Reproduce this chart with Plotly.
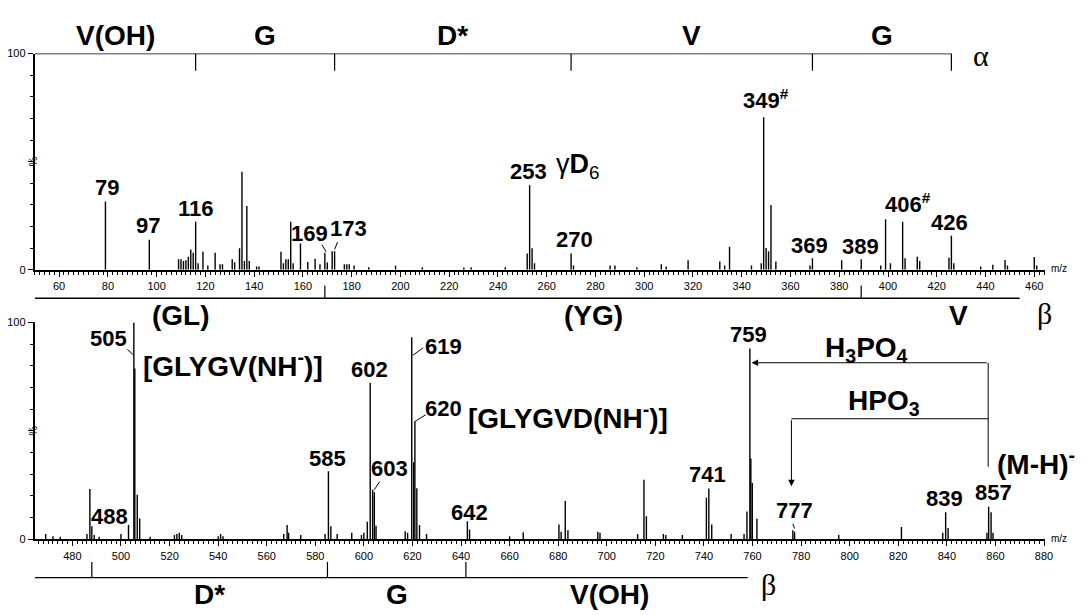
import plotly.graph_objects as go

# ---------------- data ----------------
top_mz = [79, 97, 109, 110, 111, 112, 113, 114, 115, 116, 117, 119, 121, 124, 126, 127,
          131, 132, 134, 135, 136, 137, 138, 141, 142, 151, 152, 153, 154, 155, 156, 159,
          162, 165, 167, 169, 170, 172, 173, 177, 178, 179, 181, 187, 198, 209, 226, 229,
          243, 252, 253, 254, 255, 270, 271, 286, 288, 297, 307, 309, 318, 331, 333, 335,
          344, 348, 349, 350, 351, 352, 354, 368, 369, 381, 389, 397, 399, 401, 406, 407,
          412, 413, 425, 426, 427, 438, 443, 448, 449, 460, 461]
top_int = [31.6, 13.9, 4.8, 4.8, 4.0, 4.4, 6.0, 9.4, 7.9, 22.2, 3.0, 8.3, 2.0, 7.9, 2.5, 2.5,
           4.8, 3.5, 10.0, 45.3, 4.0, 29.5, 4.0, 1.5, 1.5, 8.3, 3.0, 4.8, 4.8, 22.2, 3.0, 12.1,
           3.6, 5.1, 2.5, 7.9, 3.3, 8.6, 8.6, 2.5, 2.5, 2.5, 2.0, 1.2, 1.8, 1.2, 1.0, 1.2,
           1.2, 7.5, 39.1, 10.0, 3.0, 7.5, 2.0, 2.0, 2.0, 1.2, 2.5, 1.5, 4.4, 3.8, 2.0, 10.6,
           2.0, 3.0, 70.5, 10.1, 8.6, 30.0, 3.8, 2.0, 5.3, 4.4, 4.8, 2.0, 23.4, 3.0, 22.2, 5.3,
           6.0, 4.0, 5.6, 15.7, 3.0, 1.5, 2.3, 4.5, 2.0, 5.9, 2.0]

bot_mz = [469.0, 472.0, 475.0, 486.0, 487.2, 488.0, 489.0, 491.0, 500.0, 503.1, 505.3, 505.7,
          506.7, 507.7, 512.0, 522.0, 523.0, 524.0, 525.0, 540.0, 541.0, 542.0, 567.0, 568.4,
          569.0, 574.0, 584.0, 585.4, 586.4, 589.0, 595.0, 599.0, 600.0, 601.4, 602.6, 603.6,
          604.3, 605.0, 617.0, 618.0, 619.7, 620.5, 621.0, 621.8, 622.9, 625.8, 642.6, 643.5,
          660.0, 665.6, 680.3, 681.2, 682.9, 684.0, 696.3, 697.2, 712.7, 715.3, 716.3, 723.3,
          724.3, 731.1, 741.0, 742.0, 743.2, 751.2, 756.5, 757.7, 758.9, 759.3, 759.9, 761.8,
          776.6, 777.3, 795.5, 821.3, 838.3, 839.5, 840.5, 856.5, 857.2, 858.2, 859.0]
bot_int = [2.5, 1.5, 1.2, 2.5, 23.2, 6.0, 2.0, 1.2, 2.5, 6.6, 100.0, 78.8,
           20.6, 9.6, 1.2, 2.0, 2.5, 3.0, 2.0, 1.5, 2.5, 1.5, 2.5, 6.6,
           3.0, 2.0, 2.5, 31.4, 6.0, 2.5, 3.0, 2.0, 3.0, 8.1, 72.2, 22.9,
           21.7, 6.3, 3.8, 3.0, 93.2, 35.6, 54.4, 23.6, 6.6, 2.5, 8.3, 4.5,
           1.5, 3.3, 6.9, 3.5, 17.7, 4.2, 3.5, 3.0, 2.5, 27.5, 10.7, 2.5,
           2.0, 2.0, 19.2, 23.5, 6.9, 2.5, 2.5, 12.9, 88.0, 37.3, 26.0, 9.5,
           4.2, 3.5, 2.0, 5.7, 3.0, 12.5, 5.3, 3.0, 15.0, 12.5, 3.0]

top_xticks_step = 20
bot_xticks_step = 20

# peak labels: (text, x, y)
top_labels = [("79", 79.5, 38.0), ("97", 96.6, 20.4), ("116", 116.2, 28.2),
              ("169", 162.5, 16.9), ("173", 178.9, 19.2), ("253", 252.7, 45.6),
              ("270", 271.3, 13.9), ("349<sup>#</sup>", 350.0, 79.0), ("369", 367.9, 11.2),
              ("389", 388.9, 10.9), ("406<sup>#</sup>", 408.0, 31.0), ("426", 425.3, 21.9)]
bot_labels = [("505", 494.8, 92.8), ("488", 495.2, 10.4), ("585", 585.0, 37.1),
              ("602", 602.4, 78.5), ("603", 610.5, 32.6), ("619", 632.7, 89.0),
              ("620", 632.7, 60.5), ("642", 643.5, 12.3), ("741", 741.4, 29.8),
              ("759", 758.4, 94.5), ("777", 777.3, 13.2), ("839", 839.0, 18.8),
              ("857", 859.4, 21.8)]

# leader lines (x0, y0, x1, y1)
top_leaders = [(167.8, 11.6, 169.5, 8.3), (174.2, 12.8, 173.0, 9.4)]
bot_leaders = [(502.6, 87.5, 504.9, 85.3), (624.4, 88.3, 620.1, 84.8),
               (625.4, 57.4, 621.1, 54.4), (606.5, 26.6, 604.3, 22.9),
               (776.6, 7.2, 777.3, 5.0)]

# sequence ladders
alpha_ticks = [116, 173, 270, 369, 426]
alpha_names = [("V(OH)", 83), ("G", 144.5), ("D*", 221.5), ("V", 319.5), ("G", 397.5)]
beta_top_ticks = [169, 389]
beta_top_names = [("(GL)", 110), ("(YG)", 279), ("V", 429)]
beta_bot_ticks = [488, 585, 642]
beta_bot_names = [("D*", 536.5), ("G", 613.5), ("V(OH)", 701)]

NUMFONT = "Liberation Sans, Arial, sans-serif"
BIGFONT = "Liberation Sans, Arial, sans-serif"
GREEK = "Liberation Serif, Times New Roman, serif"

W, H = 1087, 615
def py(p):
    return 1 - p / H

xdom = [35 / W, 1053 / W]
ydom_top = [py(269), py(48.5)]
ydom_bot = [py(544), py(322.7)]


def sticks(mz, inten):
    xs, ys = [], []
    for m, h in zip(mz, inten):
        xs += [m, m, None]
        ys += [0, h, None]
    return xs, ys


fig = go.Figure()
tx, ty = sticks(top_mz, top_int)
bx, by = sticks(bot_mz, bot_int)
fig.add_trace(go.Scatter(x=tx, y=ty, mode="lines", line=dict(color="black", width=1.4),
                         xaxis="x", yaxis="y", hoverinfo="skip", showlegend=False))
fig.add_trace(go.Scatter(x=bx, y=by, mode="lines", line=dict(color="black", width=1.4),
                         xaxis="x2", yaxis="y2", hoverinfo="skip", showlegend=False))

axis_common = dict(showline=True, linecolor="black", linewidth=2, ticks="outside",
                   ticklen=5, tickwidth=1, tickcolor="black", showgrid=False, zeroline=False,
                   tickfont=dict(family="Liberation Sans, Arial", size=11, color="black"))

fig.update_layout(
    width=W, height=H, margin=dict(l=0, r=0, t=0, b=0),
    paper_bgcolor="white", plot_bgcolor="white", showlegend=False,
    xaxis=dict(domain=xdom, range=[50, 464.5], anchor="y", tickmode="linear", tick0=0,
               dtick=top_xticks_step,
               minor=dict(ticks="outside", ticklen=3, tickcolor="black", tickmode="linear",
                          tick0=0, dtick=2), **axis_common),
    yaxis=dict(domain=ydom_top, range=[0, 100], anchor="x", tickmode="array",
               tickvals=[0, 50, 100], ticktext=["0", " ", "100"],
               minor=dict(ticks="outside", ticklen=3, tickcolor="black", tickmode="linear",
                          tick0=0, dtick=10), **axis_common),
    xaxis2=dict(domain=xdom, range=[464.5, 880.5], anchor="y2", tickmode="linear", tick0=0,
                dtick=bot_xticks_step,
                minor=dict(ticks="outside", ticklen=3, tickcolor="black", tickmode="linear",
                           tick0=0, dtick=2), **axis_common),
    yaxis2=dict(domain=ydom_bot, range=[0, 100], anchor="x2", tickmode="array",
                tickvals=[0, 50, 100], ticktext=["0", " ", "100"],
                minor=dict(ticks="outside", ticklen=3, tickcolor="black", tickmode="linear",
                           tick0=0, dtick=10), **axis_common),
)

shapes = []
ann = []

def line(xref, yref, x0, y0, x1, y1, w=1.2):
    shapes.append(dict(type="line", xref=xref, yref=yref, x0=x0, y0=y0, x1=x1, y1=y1,
                       line=dict(color="black", width=w)))

def text(t, x, y, xref, yref, size=22, family=NUMFONT, bold=True, xanchor="center", yanchor="middle"):
    ann.append(dict(text=("<b>%s</b>" % t) if bold else t, x=x, y=y, xref=xref, yref=yref,
                    showarrow=False, xanchor=xanchor, yanchor=yanchor,
                    font=dict(family=family, size=size, color="black")))

for t, x, y in top_labels:
    text(t, x, y, "x", "y")
for t, x, y in bot_labels:
    text(t, x, y, "x2", "y2")
for x0, y0, x1, y1 in top_leaders:
    line("x", "y", x0, y0, x1, y1, 1)
for x0, y0, x1, y1 in bot_leaders:
    line("x2", "y2", x0, y0, x1, y1, 1)

# gamma D6
ann.append(dict(text="γ<b>D</b><sub>6</sub>", x=263, y=47.9, xref="x", yref="y", showarrow=False,
                xanchor="left", yanchor="middle",
                font=dict(family=BIGFONT, size=27, color="black")))
# fragment names
text("[GLYGV(NH<sup>-</sup>)]", 546.2, 80.8, "x2", "y2", size=28, family=BIGFONT)
text("[GLYGVD(NH<sup>-</sup>)]", 684.0, 56.7, "x2", "y2", size=28, family=BIGFONT)
text("H<sub>3</sub>PO<sub>4</sub>", 807, 87.7, "x2", "y2", size=28, family=BIGFONT)
text("HPO<sub>3</sub>", 814, 62.9, "x2", "y2", size=28, family=BIGFONT)
text("(M-H)<sup>-</sup>", 860, 35.8, "x2", "y2", size=28, family=BIGFONT, xanchor="left")

# neutral-loss arrows
line("x2", "y2", 857, 33.5, 857, 81.4, 1)
line("x2", "y2", 857, 55.6, 776, 55.6, 1)
ann.append(dict(x=759.6, y=81.4, ax=857, ay=81.4, xref="x2", yref="y2", axref="x2", ayref="y2",
                text="", showarrow=True, arrowhead=2, arrowsize=1.3, arrowwidth=1, arrowcolor="black"))
ann.append(dict(x=776, y=24.5, ax=776, ay=55.6, xref="x2", yref="y2", axref="x2", ayref="y2",
                text="", showarrow=True, arrowhead=2, arrowsize=1.3, arrowwidth=1, arrowcolor="black"))

# alpha ladder (top)
line("x", "y", 50, 100, alpha_ticks[-1], 100, 1.4)
for t in alpha_ticks:
    line("x", "y", t, 100, t, 92, 1.2)
for name, x in alpha_names:
    text(name, x, py(30), "x", "paper", size=28, family=BIGFONT)
text("α", 438, 99, "x", "y", size=30, family=GREEK, bold=False)

# beta ladder between panels
line("x", "paper", 50, py(298), 454, py(298), 1.4)
for t in beta_top_ticks:
    line("x", "paper", t, py(298), t, py(285), 1.2)
for name, x in beta_top_names:
    text(name, x, py(316), "x", "paper", size=28, family=BIGFONT)
text("β", 464, py(314), "x", "paper", size=30, family=GREEK, bold=False)

# beta ladder below bottom panel
line("x2", "paper", 464.5, py(583), 758, py(583), 1.4)
for t in beta_bot_ticks:
    line("x2", "paper", t, py(583), t, py(567), 1.2)
for name, x in beta_bot_names:
    text(name, x, py(600), "x2", "paper", size=28, family=BIGFONT)
text("β", 766.4, py(590), "x2", "paper", size=30, family=GREEK, bold=False)

# axis decorations
for yy, yref in [(50, "y"), (50, "y2")]:
    ann.append(dict(text="%", x=25 / W, y=yy, xref="paper", yref=yref, showarrow=False,
                    textangle=-90, font=dict(family="Liberation Sans, Arial", size=11, color="black")))
for pyy in [268, 543]:
    ann.append(dict(text="m/z", x=1057 / W, y=py(pyy), xref="paper", yref="paper", showarrow=False,
                    xanchor="left", yanchor="middle",
                    font=dict(family="Liberation Sans, Arial", size=10, color="black")))

fig.update_layout(shapes=shapes, annotations=ann)
fig.write_html("out.html")
